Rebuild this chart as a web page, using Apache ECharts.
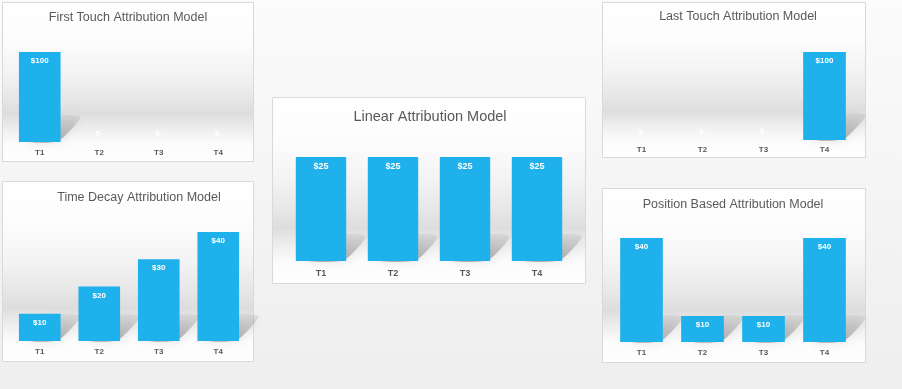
<!DOCTYPE html>
<html>
<head>
<meta charset="utf-8">
<script src="https://cdn.jsdelivr.net/npm/echarts@6/dist/echarts.min.js"></script>
<style>
html,body{margin:0;padding:0;}
#chart{width:902px;height:389px;}
</style>
</head>
<body>
<div id="chart"></div>
<script>
// ---- data ----
var categories = ['T1', 'T2', 'T3', 'T4'];
var firstTouch = [100, 0, 0, 0];
var timeDecay = [10, 20, 30, 40];
var linearModel = [25, 25, 25, 25];
var lastTouch = [0, 0, 0, 100];
var positionBased = [40, 10, 10, 40];
var titles = ['First Touch Attribution Model', 'Time Decay Attribution Model', 'Linear Attribution Model', 'Last Touch Attribution Model', 'Position Based Attribution Model'];

// ---- layout (panels) ----
var panels = [
  {box: [2, 2, 251, 159], grid: {left: 10, top: 52, width: 238, height: 90}, max: 100, titleX: 128, titleY: 18, titleSize: 12.5, labelSize: 8, margin: 7, data: firstTouch},
  {box: [2, 181, 251, 180], grid: {left: 10, top: 232, width: 238, height: 109}, max: 40, titleX: 139, titleY: 198, titleSize: 12.5, labelSize: 8, margin: 7, data: timeDecay},
  {box: [272, 97, 313, 186], grid: {left: 285, top: 157, width: 288, height: 104}, max: 25, titleX: 430, titleY: 117, titleSize: 14.5, labelSize: 9, margin: 8, data: linearModel},
  {box: [602, 2, 263, 155], grid: {left: 611, top: 52, width: 244, height: 88}, max: 100, titleX: 738, titleY: 17, titleSize: 12.5, labelSize: 8, margin: 6, data: lastTouch},
  {box: [602, 188, 263, 174], grid: {left: 611, top: 238, width: 244, height: 104}, max: 40, titleX: 733, titleY: 205, titleSize: 12.5, labelSize: 8, margin: 7, data: positionBased}
];

var BAR = '#1FB1EC';
var TXT = '#595959';
var TITLE_FONT = '"Liberation Sans Narrow", "Liberation Sans", sans-serif';

var grids = [], xAxes = [], yAxes = [], series = [], graphics = [];

panels.forEach(function (p, i) {
  // panel background
  graphics.push({
    type: 'rect', z: -10, silent: true,
    shape: {x: p.box[0] + 0.5, y: p.box[1] + 0.5, width: p.box[2], height: p.box[3]},
    style: {
      fill: new echarts.graphic.LinearGradient(0, 0, 0, 1, [
        {offset: 0, color: '#ffffff'},
        {offset: 0.25, color: '#fcfcfc'},
        {offset: 0.45, color: '#f3f3f3'},
        {offset: 0.6, color: '#e7e7e7'},
        {offset: 0.7, color: '#dddddd'},
        {offset: 0.78, color: '#ececec'},
        {offset: 0.88, color: '#fbfbfb'},
        {offset: 1, color: '#ffffff'}
      ]),
      stroke: '#d9d9d9', lineWidth: 1
    }
  });
  graphics.push({
    type: 'text', z: 10, silent: true,
    x: p.titleX, y: p.titleY,
    style: {
      text: titles[i], fill: TXT, font: p.titleSize + 'px ' + TITLE_FONT,
      textAlign: 'center', textVerticalAlign: 'middle'
    }
  });

  grids.push({left: p.grid.left, top: p.grid.top, width: p.grid.width, height: p.grid.height, containLabel: false});
  xAxes.push({
    type: 'category', gridIndex: i, data: categories,
    axisLine: {show: false}, axisTick: {show: false}, splitLine: {show: false},
    axisLabel: {color: TXT, fontSize: p.labelSize, fontWeight: 'bold', margin: p.margin, fontFamily: '"Liberation Sans", sans-serif'}
  });
  yAxes.push({type: 'value', gridIndex: i, min: 0, max: p.max, show: false, splitLine: {show: false}});

  // soft floor shadow behind each bar
  series.push({
    type: 'custom', xAxisIndex: i, yAxisIndex: i, z: 1, silent: true,
    data: p.data.map(function (v, k) { return [k, v]; }),
    renderItem: function (params, api) {
      var v = api.value(1);
      if (!v) return null;
      var base = api.coord([api.value(0), 0]);
      var top = api.coord([api.value(0), v]);
      var band = api.size([1, 0])[0];
      var bw = band * 0.7;
      var x0 = base[0] - bw / 2 + bw * 0.2, x1 = base[0] + bw / 2 - 2, y0 = base[1] - 1;
      var h = Math.min(y0 - top[1], 24);
      var dx = h * 0.9;
      return {
        type: 'polygon',
        shape: {points: [[x0, y0], [x1, y0], [x1 + dx, y0 - h], [x0 + dx, y0 - h]], smooth: 0.2},
        style: {
          fill: new echarts.graphic.LinearGradient(0, 0, 0, 1, [
            {offset: 0, color: 'rgba(0,0,0,0.05)'},
            {offset: 1, color: 'rgba(0,0,0,0.28)'}
          ]),
          shadowBlur: 10, shadowColor: 'rgba(0,0,0,0.35)'
        }
      };
    }
  });

  series.push({
    type: 'bar', xAxisIndex: i, yAxisIndex: i, z: 3,
    barCategoryGap: '30%',
    itemStyle: {color: BAR},
    data: p.data.map(function (v) {
      return {
        value: v,
        label: v === 0 ? {position: 'top', distance: 4} : {position: 'insideTop', distance: 5}
      };
    }),
    label: {
      show: true, color: '#ffffff', fontSize: p.labelSize, fontWeight: 'bold',
      fontFamily: '"Liberation Sans", sans-serif',
      formatter: function (d) { return d.value === 0 ? '$-' : '$' + d.value; }
    }
  });
});

var chart = echarts.init(document.getElementById('chart'), null, {renderer: 'canvas'});
chart.setOption({
  animation: false,
  backgroundColor: new echarts.graphic.LinearGradient(0, 0, 0, 1, [
    {offset: 0, color: '#fbfbfb'},
    {offset: 1, color: '#eeeeee'}
  ]),
  grid: grids,
  xAxis: xAxes,
  yAxis: yAxes,
  series: series,
  graphic: graphics
});
</script>
</body>
</html>
